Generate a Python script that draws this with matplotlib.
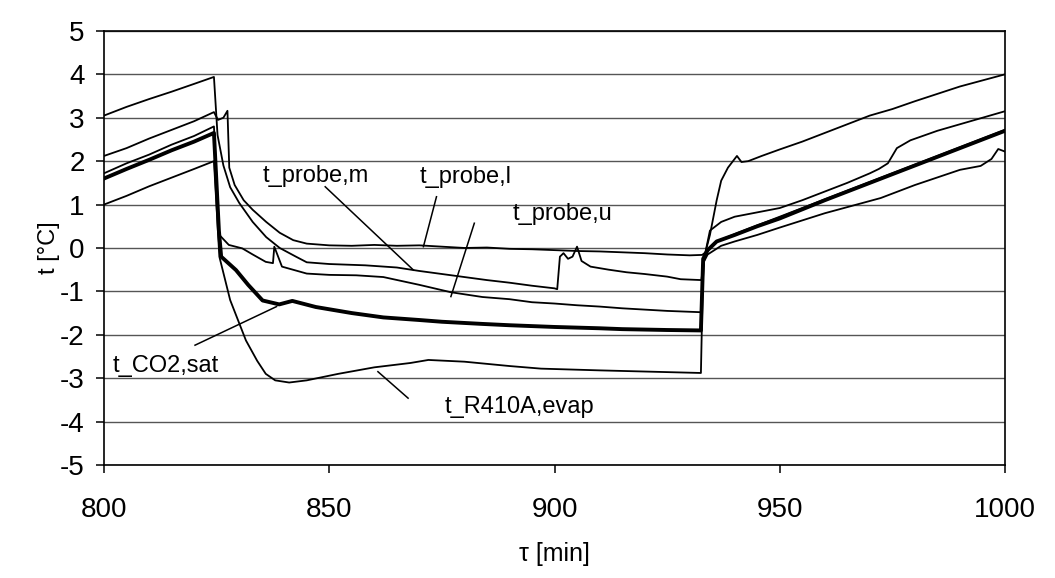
import numpy as np
import matplotlib.pyplot as plt

plt.rcParams['font.family'] = ['Liberation Sans', 'DejaVu Sans']
plt.rcParams['axes.unicode_minus'] = False

# temperatures over time
x_probe_l = [800, 805, 810, 815, 820, 824.4, 825.3, 826.5, 827.4, 827.8, 829, 831, 833, 836, 839, 842, 845,
             850, 855, 860, 865, 870, 875, 880, 885, 890, 895, 900, 905, 910, 915, 920, 925, 930, 932.8,
             933.5, 934.5, 936, 937, 938.5, 940.5, 941.5, 943, 946, 950, 955, 960, 965, 970, 975, 980,
             985, 990, 995, 1000]
y_probe_l = [2.12, 2.3, 2.52, 2.72, 2.92, 3.13, 2.95, 3.0, 3.16, 1.85, 1.45, 1.1, 0.88, 0.6, 0.35, 0.18, 0.1,
             0.06, 0.05, 0.07, 0.05, 0.06, 0.03, 0.0, 0.01, -0.02, -0.03, -0.05, -0.07, -0.08, -0.1, -0.12,
             -0.15, -0.17, -0.16, -0.1, 0.3, 1.1, 1.55, 1.85, 2.12, 1.98, 2.0, 2.12, 2.27, 2.45, 2.65, 2.85,
             3.05, 3.2, 3.38, 3.55, 3.72, 3.86, 4.0]

x_probe_m = [800, 805, 810, 815, 820, 824.4, 825.2, 826.5, 828, 830, 833, 836, 839, 842.6, 845, 850, 858,
             865, 870, 875, 880, 885, 890, 895, 900, 900.6, 901.2, 902, 903, 904, 905, 906, 908, 912, 916,
             920, 925, 928, 932.6, 933.3, 934.5, 937, 940, 945, 950, 955, 960, 965, 970, 972, 974, 976,
             979, 985, 990, 995, 1000]
y_probe_m = [3.05, 3.25, 3.43, 3.6, 3.78, 3.94, 2.6, 1.9, 1.4, 1.04, 0.6, 0.25, 0.0, -0.2, -0.33, -0.37,
             -0.4, -0.45, -0.53, -0.6, -0.67, -0.74, -0.8, -0.87, -0.93, -0.95, -0.2, -0.12, -0.25, -0.2,
             0.03, -0.3, -0.43, -0.5, -0.56, -0.6, -0.66, -0.72, -0.74, -0.2, 0.4, 0.6, 0.72, 0.82, 0.92,
             1.1, 1.3, 1.5, 1.72, 1.82, 1.95, 2.3, 2.48, 2.7, 2.85, 3.0, 3.15]

x_probe_u = [800, 805, 810, 815, 820, 824.4, 825.6, 827.7, 830.7, 833, 835.9, 837.5, 837.8, 839.5, 845,
             850, 856, 862, 870, 877, 884, 890, 895, 900, 905, 910, 915, 920, 925, 932.5, 933.2, 934,
             936, 940, 945, 950, 960, 970, 980, 990, 1000]
y_probe_u = [1.72, 1.95, 2.15, 2.38, 2.58, 2.8, 0.3, 0.07, -0.01, -0.15, -0.32, -0.35, 0.03, -0.43, -0.59,
             -0.62, -0.63, -0.67, -0.85, -1.02, -1.13, -1.18, -1.25, -1.28, -1.32, -1.35, -1.39, -1.42,
             -1.45, -1.48, -0.3, -0.05, 0.15, 0.32, 0.52, 0.72, 1.12, 1.52, 1.92, 2.32, 2.72]

x_co2_sat = [800, 805, 810, 815, 820, 824.4, 825.5, 826, 829.3, 832, 835.2, 838.9, 841.8, 847, 855, 862,
             870, 875, 884, 890, 900, 910, 915, 925, 932.5, 933, 934, 936, 940, 945, 950, 960, 970, 980,
             990, 1000]
y_co2_sat = [1.6, 1.82, 2.03, 2.25, 2.45, 2.65, 0.4, -0.2, -0.51, -0.85, -1.21, -1.3, -1.22, -1.36, -1.5,
             -1.6, -1.66, -1.7, -1.75, -1.78, -1.82, -1.85, -1.87, -1.89, -1.9, -0.25, -0.05, 0.15, 0.3,
             0.5, 0.68, 1.1, 1.5, 1.9, 2.3, 2.7]

x_r410a = [800, 805, 810, 815, 820, 824.4, 825.6, 828, 831.5, 834, 835.9, 838, 841.1, 845, 852, 860, 868,
           872, 880, 890, 897, 910, 925, 932.5, 933, 934, 937, 940, 945, 950, 960, 972.4, 980, 990, 994.6,
           997, 998.5, 1000]
y_r410a = [1.0, 1.2, 1.42, 1.62, 1.82, 2.0, -0.2, -1.2, -2.13, -2.6, -2.9, -3.05, -3.1, -3.05, -2.9, -2.75,
           -2.65, -2.58, -2.62, -2.72, -2.78, -2.82, -2.86, -2.88, -0.35, -0.15, 0.05, 0.15, 0.3, 0.47, 0.8,
           1.15, 1.45, 1.8, 1.89, 2.05, 2.28, 2.22]

fig = plt.figure(figsize=(10.55, 5.78), dpi=100)
ax = fig.add_axes([0.0986, 0.1955, 0.854, 0.751])

ax.plot(x_probe_l, y_probe_l, color='black', lw=1.3)
ax.plot(x_probe_m, y_probe_m, color='black', lw=1.3)
ax.plot(x_probe_u, y_probe_u, color='black', lw=1.3)
ax.plot(x_co2_sat, y_co2_sat, color='black', lw=2.8)
ax.plot(x_r410a, y_r410a, color='black', lw=1.3)

ax.set_xlim(800, 1000)
ax.set_ylim(-5, 5)
ax.set_xticks([800, 850, 900, 950, 1000])
ax.set_yticks(range(-5, 6))
ax.yaxis.grid(True, color='#555555', lw=1.0)
ax.set_axisbelow(True)
for s in ax.spines.values():
    s.set_color('black')
    s.set_linewidth(1.2)
ax.tick_params(axis='both', direction='out', length=6, width=1.1, labelsize=20)
ax.tick_params(axis='x', pad=17)
ax.tick_params(axis='y', pad=8)

ax.set_ylabel('t [°C]', fontsize=17, labelpad=0)
ax.set_xlabel('τ [min]', fontsize=18, labelpad=14)

# curve labels with leader lines
fs = 17
ax.text(835.1, 1.53, 't_probe,m', fontsize=fs)
ax.plot([849.1, 868.7], [1.41, -0.51], color='black', lw=1.1)
ax.text(870.1, 1.50, 't_probe,l', fontsize=fs)
ax.plot([873.8, 870.9], [1.18, 0.03], color='black', lw=1.1)
ax.text(890.8, 0.65, 't_probe,u', fontsize=fs)
ax.plot([882.2, 877.0], [0.57, -1.12], color='black', lw=1.1)
ax.text(802.0, -2.85, 't_CO2,sat', fontsize=fs)
ax.plot([820.2, 838.3], [-2.24, -1.35], color='black', lw=1.1)
ax.text(875.7, -3.81, 't_R410A,evap', fontsize=fs)
ax.plot([860.8, 867.5], [-2.85, -3.46], color='black', lw=1.1)

fig.savefig('out.png', dpi=100)
